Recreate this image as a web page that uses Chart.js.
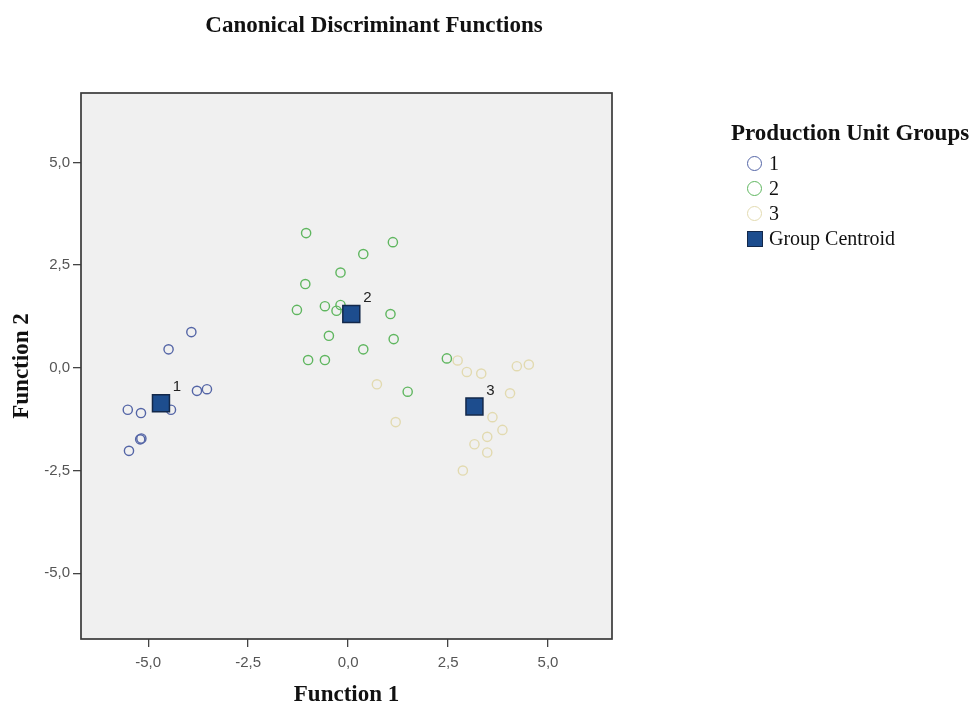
<!DOCTYPE html>
<html>
<head>
<meta charset="utf-8">
<script src="https://cdn.jsdelivr.net/npm/chart.js@4.4.1/dist/chart.umd.min.js"></script>
<style>
  html, body { margin: 0; padding: 0; background: #ffffff; }
  #wrap { position: relative; width: 970px; height: 709px; }
  #legend {
    position: absolute; left: 731px; top: 118px;
    font-family: "Liberation Serif", "DejaVu Serif", serif; color: #111;
  }
  #legend .ttl { font-weight: bold; font-size: 23px; line-height: 30px; margin-bottom: 3px; }
  #legend .row { display: flex; align-items: center; height: 25px; font-size: 20px; padding-left: 16px; }
  #legend .sym { width: 15px; height: 15px; margin-right: 7px; box-sizing: border-box; }
</style>
</head>
<body>
<div id="wrap">
  <canvas id="cdf" width="970" height="709"></canvas>
  <div id="legend"></div>
</div>
<script>
// ---- data ----
const GROUP_LABELS = ["1", "2", "3"];
const CENTROID_LABEL = "Group Centroid";
const AXIS_TICKS = [-5, -2.5, 0, 2.5, 5];

const group1X = [-3.92, -4.49, -3.78, -3.53, -4.43, -5.51, -5.18, -5.20, -5.17, -5.48];
const group1Y = [0.87, 0.45, -0.56, -0.52, -1.02, -1.02, -1.10, -1.74, -1.72, -2.02];

const group2X = [-1.05, 1.12, 0.38, -0.19, -1.07, -1.28, -0.58, -0.19, -0.29, 1.06, -0.48, 1.14, 0.38, -1.00, -0.58, 2.47, 1.49];
const group2Y = [3.28, 3.06, 2.77, 2.32, 2.04, 1.41, 1.50, 1.53, 1.39, 1.31, 0.78, 0.70, 0.45, 0.19, 0.19, 0.23, -0.58];

const group3X = [2.74, 2.97, 3.33, 4.22, 4.52, 0.72, 4.05, 3.61, 1.19, 3.86, 3.48, 3.16, 3.48, 2.87];
const group3Y = [0.18, -0.10, -0.14, 0.04, 0.08, -0.40, -0.62, -1.20, -1.32, -1.51, -1.68, -1.86, -2.06, -2.50];

const centroidX = [-4.68, 0.08, 3.16];
const centroidY = [-0.86, 1.31, -0.94];

// ---- styles ----
const GROUP_COLORS = ["#5465a6", "#5fb65f", "#e2dab0"];
const CENTROID_FILL = "#1d4d8e";
const CENTROID_EDGE = "#13284a";
const SERIF = "'Liberation Serif', 'Times New Roman', serif";
const SANS = "'Liberation Sans', Arial, sans-serif";

const toPts = (xs, ys) => xs.map((x, i) => ({ x, y: ys[i] }));
const fmt = (v) => Number(v).toFixed(1).replace(".", ",");

const groupSets = [
  [group1X, group1Y],
  [group2X, group2Y],
  [group3X, group3Y],
].map(([xs, ys], i) => ({
  label: GROUP_LABELS[i],
  data: toPts(xs, ys),
  pointStyle: "circle",
  pointRadius: 4.6,
  pointBorderWidth: 1.4,
  borderColor: GROUP_COLORS[i],
  backgroundColor: "rgba(0,0,0,0)",
  order: 1,
}));

const centroidSet = {
  label: CENTROID_LABEL,
  data: toPts(centroidX, centroidY),
  pointStyle: "rect",
  pointRadius: 12,
  pointBorderWidth: 1.5,
  borderColor: CENTROID_EDGE,
  backgroundColor: CENTROID_FILL,
  order: 0,
};

/* plot background + frame */
const plotFrame = {
  id: "plotFrame",
  beforeDatasetsDraw(chart) {
    const { ctx, chartArea: a } = chart;
    ctx.save();
    ctx.fillStyle = "#f0f0f0";
    ctx.fillRect(a.left, a.top, a.right - a.left, a.bottom - a.top);
    ctx.restore();
  },
  afterDatasetsDraw(chart) {
    const { ctx, chartArea: a } = chart;
    ctx.save();
    ctx.strokeStyle = "#3a3a3a";
    ctx.lineWidth = 1.7;
    ctx.strokeRect(a.left, a.top, a.right - a.left, a.bottom - a.top);
    ctx.restore();
  },
};

/* centroid numbers + header text */
const extras = {
  id: "extras",
  afterDraw(chart) {
    const { ctx } = chart;
    const meta = chart.getDatasetMeta(3);
    ctx.save();
    ctx.fillStyle = "#222";
    ctx.font = "15px " + SANS;
    ctx.textAlign = "center";
    ctx.textBaseline = "middle";
    meta.data.forEach((pt, i) => {
      ctx.fillText(GROUP_LABELS[i], pt.x + 16, pt.y - 16);
    });
    ctx.fillStyle = "#111";
    ctx.font = "bold 23px " + SERIF;
    ctx.fillText("Canonical Discriminant Functions", 374, 26);
    ctx.restore();
  },
};

const axisCommon = (title, fitKey, fitVal) => ({
  type: "linear",
  afterBuildTicks(scale) {
    scale.ticks = AXIS_TICKS.map((v) => ({ value: v }));
  },
  afterFit(scale) {
    scale[fitKey] = fitVal;
  },
  grid: {
    drawOnChartArea: false,
    drawTicks: true,
    tickLength: 8,
    color: "#444",
    lineWidth: 1.3,
  },
  border: { display: false },
  ticks: {
    callback: fmt,
    color: "#555",
    padding: 3,
    font: { family: SANS, size: 15 },
  },
  title: {
    display: true,
    text: title,
    color: "#111",
    padding: { top: 8, bottom: 0 },
    font: { family: SERIF, size: 23, weight: "bold" },
  },
});

const xAxis = axisCommon("Function 1", "height", 70);
xAxis.min = -6.68;
xAxis.max = 6.6;
xAxis.title.padding = { top: -3, bottom: 0 };
xAxis.ticks.padding = 7;

const yAxis = axisCommon("Function 2", "width", 81);
yAxis.min = -6.6;
yAxis.max = 6.69;
yAxis.ticks.padding = 3;

new Chart(document.getElementById("cdf"), {
  type: "scatter",
  data: { datasets: [...groupSets, centroidSet] },
  options: {
    responsive: false,
    animation: false,
    layout: { padding: { top: 93, right: 358, bottom: 0, left: 0 } },
    plugins: {
      legend: { display: false },
      tooltip: { enabled: false },
      title: { display: false },
    },
    scales: { x: xAxis, y: yAxis },
  },
  plugins: [plotFrame, extras],
});

/* html legend */
(function buildLegend() {
  const box = document.getElementById("legend");
  let html = '<div class="ttl">Production Unit Groups</div>';
  GROUP_LABELS.forEach((lab, i) => {
    html +=
      '<div class="row"><span class="sym" style="border:1.4px solid ' +
      GROUP_COLORS[i] + ';border-radius:50%"></span>' + lab + "</div>";
  });
  html +=
    '<div class="row"><span class="sym" style="width:16px;height:16px;margin-right:6px;background:' +
    CENTROID_FILL + ";border:1.5px solid " + CENTROID_EDGE + '"></span>' +
    CENTROID_LABEL + "</div>";
  box.innerHTML = html;
})();
</script>
</body>
</html>
